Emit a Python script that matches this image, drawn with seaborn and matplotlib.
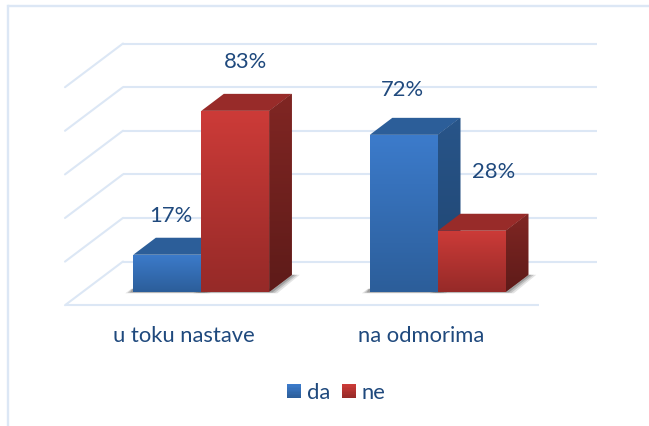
import numpy as np
import pandas as pd
import matplotlib
matplotlib.use("Agg")
import matplotlib.pyplot as plt
import seaborn as sns
from matplotlib.patches import Polygon, Rectangle, Patch
from matplotlib.legend_handler import HandlerBase
from matplotlib.colors import LinearSegmentedColormap

categories = ["u toku nastave", "na odmorima"]
series = ["da", "ne"]
da_values = [17, 72]
ne_values = [83, 28]
grid_values = [0, 20, 40, 60, 80, 100]

W, H = 649, 427
X0, XSTEP = 201.3, 236.5      # pixel of first category, pixels per category
Y0, YSCALE = 292.8, 2.18      # pixel of value 0, pixels per percent
DX, DY = 22.5 / XSTEP, 17.0 / YSCALE   # bar depth in data units
TEXT = "#1F497D"
GRID = "#DCE7F5"
FS = 15.8
STYLE = {
    "da": dict(front=("#3C7BCB", "#2C5E9A"), top="#2C5E99", side=("#285589", "#1F4470")),
    "ne": dict(front=("#CC3B38", "#962A28"), top="#982B29", side=("#802623", "#5E1B19")),
}
LABEL_SHIFT = [(4, -40), (10, -50), (-1, -46), (22, -60)]  # pixels from bar top centre, da then ne

sns.set_theme(style="white")
plt.rcParams["font.family"] = ["Lato", "DejaVu Sans"]

fig = plt.figure(figsize=(W / 100, H / 100), dpi=100)
ax = fig.add_axes([0, 0, 1, 1])
df = pd.DataFrame({
    "kategorija": categories * 2,
    "odgovor": [s for s in series for _ in categories],
    "procenat": da_values + ne_values,
})
sns.barplot(data=df, x="kategorija", y="procenat", hue="odgovor", hue_order=series,
            order=categories, width=0.575, gap=0, dodge=True, ax=ax,
            palette={"da": STYLE["da"]["front"][0], "ne": STYLE["ne"]["front"][0]},
            legend=False, zorder=5, linewidth=0, saturation=1)
ax.set_xlim(-X0 / XSTEP, (W - X0) / XSTEP)
ax.set_ylim((Y0 - H) / YSCALE, Y0 / YSCALE)
ax.axis("off")


def px(x):
    return (x - X0) / XSTEP


def py(y):
    return (Y0 - y) / YSCALE


# back wall, side wall and floor lines
back_dx, back_dy = 58 / XSTEP, 43.7 / YSCALE
left = px(65)
right_back = px(597)
right_front = px(539)
floor = 30.3 / YSCALE  # back 0-line sits above bars' baseline
lw = 1.5
for g in grid_values:
    yb = g + floor
    ax.plot([left + back_dx, right_back], [yb, yb], color=GRID, lw=lw, zorder=1, solid_capstyle="butt")
    ax.plot([left, left + back_dx], [yb - back_dy, yb], color=GRID, lw=lw, zorder=1)
ax.plot([left, right_front], [floor - back_dy] * 2, color=GRID, lw=lw, zorder=1, solid_capstyle="butt")

# frame
ax.plot([px(8)] * 2, [py(427), py(7)], color=GRID, lw=1.7, zorder=1, solid_capstyle="projecting")
ax.plot([px(8), px(649)], [py(7)] * 2, color=GRID, lw=1.7, zorder=1)

cm = {k: LinearSegmentedColormap.from_list(k, v["front"]) for k, v in STYLE.items()}
cs = {k: LinearSegmentedColormap.from_list(k + "s", v["side"]) for k, v in STYLE.items()}
grad = np.linspace(0, 1, 64)[:, None]

bars = sorted([p for p in ax.patches if p.get_height() > 0], key=lambda p: p.get_x())
kinds = ["da", "ne", "da", "ne"]
values = [da_values[0], ne_values[0], da_values[1], ne_values[1]]
for i, (p, k, v) in enumerate(zip(bars, kinds, values)):
    x, w, h = p.get_x(), p.get_width(), p.get_height()
    # soft floor shadow
    for s, a in [(1.0, .14), (.7, .2), (.4, .28)]:
        ax.add_patch(Polygon([(x - 8 * s / XSTEP, -1.5 * s / YSCALE), (x + w + 8 * s / XSTEP, -1.5 * s / YSCALE),
                              (x + w + DX + 8 * s / XSTEP, DY), (x + w + DX, DY), (x + w, 3 / YSCALE),
                              (x - 2 * s / XSTEP, 3 / YSCALE)],
                             closed=True, fc="#404040", ec="none", alpha=a, zorder=2))
    z = 3 + i * 0.2
    top = Polygon([(x, h), (x + w, h), (x + w + DX, h + DY), (x + DX, h + DY)], closed=True,
                  fc=STYLE[k]["top"], ec="none", zorder=z)
    ax.add_patch(top)
    side = Polygon([(x + w, 0), (x + w + DX, DY), (x + w + DX, h + DY), (x + w, h)], closed=True,
                   fc=STYLE[k]["side"][0], ec="none", zorder=z)
    ax.add_patch(side)
    im = ax.imshow(grad, cmap=cs[k], aspect="auto", extent=(x + w, x + w + DX, 0, h + DY), zorder=z + .01)
    im.set_clip_path(side)
    p.set_zorder(z + .02)
    im2 = ax.imshow(grad, cmap=cm[k], aspect="auto", extent=(x, x + w, 0, h), zorder=z + .03)
    im2.set_clip_path(p)
    sx, sy = LABEL_SHIFT[i]
    ax.annotate(f"{v}%", (x + w / 2, h), xytext=(sx * .72, -sy * .72), textcoords="offset points",
                ha="center", va="center", color=TEXT, fontsize=FS, zorder=9)
ax.set_xlim(-X0 / XSTEP, (W - X0) / XSTEP)
ax.set_ylim((Y0 - H) / YSCALE, Y0 / YSCALE)

for j, c in enumerate(categories):
    ax.text(j - 17 / XSTEP, py(336), c, ha="center", va="center", color=TEXT, fontsize=FS, zorder=9)


class GradHandler(HandlerBase):
    def create_artists(self, legend, orig, xd, yd, width, height, fontsize, trans):
        cmap = LinearSegmentedColormap.from_list("l", orig.colors)
        n = 10
        return [Rectangle((xd, yd + height * (1 - (s + 1) / n)), width, height / n * 1.05,
                          fc=cmap(s / (n - 1)), ec="none", transform=trans) for s in range(n)]


class GradKey(Patch):
    def __init__(self, colors, label):
        super().__init__(label=label)
        self.colors = colors


handles = [GradKey(STYLE[s]["front"], s) for s in series]
fig.legend(handles=handles, labels=series, handler_map={GradKey: GradHandler()},
           loc="center", bbox_to_anchor=(336.5 / W, 1 - 393 / H), ncol=2, frameon=False,
           fontsize=FS, labelcolor=TEXT, handlelength=0.65, handleheight=0.65,
           handletextpad=0.25, columnspacing=0.55, borderpad=0)

fig.savefig("out.png", dpi=100)
